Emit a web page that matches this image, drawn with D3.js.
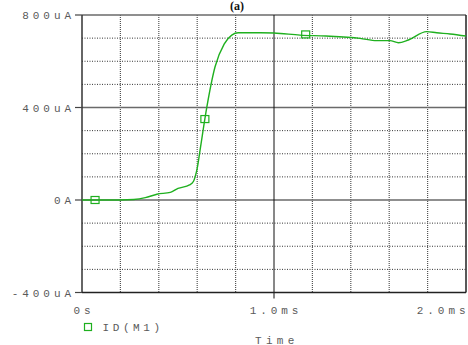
<!DOCTYPE html>
<html><head><meta charset="utf-8">
<script src="https://cdn.jsdelivr.net/npm/d3@7"></script>
<style>body{margin:0;background:#fff}svg{display:block}</style>
</head><body>
<script>
// Data (time in ms, current in uA)
const timeMs = [0, 0.1, 0.2, 0.27, 0.33, 0.39, 0.46, 0.5, 0.56, 0.58, 0.594, 0.6, 0.615, 0.649, 0.693, 0.741, 0.78, 0.814, 0.93, 1.0, 1.135, 1.27, 1.448, 1.535, 1.604, 1.648, 1.70, 1.795, 1.847, 1.917, 2.0];
const currentUA = [0, 0, 0, 2, 10, 25, 33, 50, 65, 80, 115, 137, 216, 396, 576, 675, 713, 723, 723, 722, 713, 709, 699, 689, 689, 680, 692, 728, 723, 718, 709];
const markerTime = [0.068, 0.64, 1.165];
const markerValue = [0, 350, 716];
const yTickValues = [-400, 0, 400, 800];
const yTickLabels = ["-400uA", "0A", "400uA", "800uA"];
const xTickValues = [0, 1, 2];
const xTickLabels = ["0s", "1.0ms", "2.0ms"];
const yGridValues = [-300, -200, -100, 100, 200, 300, 500, 600, 700];
const xGridValues = [0.2, 0.4, 0.6, 0.8, 1.2, 1.4, 1.6, 1.8];
const seriesName = "ID(M1)";
const title = "(a)";
const xTitle = "Time";

const W = 468, H = 345;
const L = 82, R = 466, T = 15, B = 292.5;
const green = "#1fb01f";
const txt = "#5a5a5a";
const FONT = "Liberation Mono, monospace";

const svg = d3.select("body").append("svg").attr("width", W).attr("height", H);
const x = d3.scaleLinear().domain([0, 2]).range([L, R]);
const y = d3.scaleLinear().domain([-400, 800]).range([B, T]);

// spaced text: letter spacing between glyphs only (no trailing space)
function spaced(sel, str, ls) {
  const chars = str.split("");
  sel.selectAll("tspan").data(chars).join("tspan")
    .attr("letter-spacing", (c, i) => i < chars.length - 1 ? ls : 0)
    .text(c => c);
  return sel;
}

// dotted grid
svg.append("g").selectAll("line").data(yGridValues).join("line")
  .attr("x1", L).attr("x2", R).attr("y1", d => y(d)).attr("y2", d => y(d))
  .attr("stroke", "#333").attr("stroke-width", 1).attr("stroke-dasharray", "1,1.5");
svg.append("g").selectAll("line").data(xGridValues).join("line")
  .attr("y1", T).attr("y2", B).attr("x1", d => x(d)).attr("x2", d => x(d))
  .attr("stroke", "#555").attr("stroke-width", 1.2).attr("stroke-dasharray", "1,1");

// major solid horizontal lines
svg.append("g").selectAll("line").data([0, 400, 800]).join("line")
  .attr("x1", L).attr("x2", R).attr("y1", d => y(d)).attr("y2", d => y(d))
  .attr("stroke", "#6a6a6a").attr("stroke-width", 1.5);
// 1.0ms solid line
svg.append("line").attr("x1", x(1)).attr("x2", x(1)).attr("y1", T).attr("y2", B + 6)
  .attr("stroke", "#111").attr("stroke-width", 1);
// borders
svg.append("line").attr("x1", L).attr("x2", L).attr("y1", T).attr("y2", B)
  .attr("stroke", "#333").attr("stroke-width", 1.5);
svg.append("line").attr("x1", R).attr("x2", R).attr("y1", T).attr("y2", B)
  .attr("stroke", "#222").attr("stroke-width", 1.5);
svg.append("line").attr("x1", L).attr("x2", R).attr("y1", B).attr("y2", B)
  .attr("stroke", "#222").attr("stroke-width", 1.5);

// y ticks & labels
const ls = 3.9;
const yAx = svg.append("g");
yAx.selectAll("line").data(yTickValues).join("line")
  .attr("x1", L - 7).attr("x2", L).attr("y1", d => y(d)).attr("y2", d => y(d))
  .attr("stroke", "#444").attr("stroke-width", 1.2);
yAx.selectAll("text").data(yTickValues).join("text")
  .attr("x", 71).attr("y", d => y(d) + 4)
  .attr("text-anchor", "end")
  .attr("font-family", FONT).attr("font-size", 11).attr("fill", txt)
  .each(function(d, i) { spaced(d3.select(this), yTickLabels[i], ls); });

// x labels
svg.append("g").selectAll("text").data(xTickValues).join("text")
  .attr("x", (d, i) => i === 2 ? R - 0.5 : x(d))
  .attr("y", 314)
  .attr("text-anchor", (d, i) => i === 2 ? "end" : "middle")
  .attr("font-family", FONT).attr("font-size", 11).attr("fill", txt)
  .each(function(d, i) { spaced(d3.select(this), xTickLabels[i], ls); });

// curve
svg.append("path").datum(timeMs.map((t, i) => [t, currentUA[i]]))
  .attr("d", d3.line().x(d => x(d[0])).y(d => y(d[1])).curve(d3.curveMonotoneX))
  .attr("fill", "none").attr("stroke", green).attr("stroke-width", 1.4);

// markers
svg.append("g").selectAll("rect").data(markerTime).join("rect")
  .attr("x", d => x(d) - 4).attr("y", (d, i) => y(markerValue[i]) - 3.5)
  .attr("width", 8).attr("height", 7)
  .attr("fill", "none").attr("stroke", green).attr("stroke-width", 1.2);

// legend
svg.append("rect").attr("x", 84.5).attr("y", 323.5).attr("width", 7).attr("height", 7)
  .attr("fill", "none").attr("stroke", green).attr("stroke-width", 1.2);
spaced(svg.append("text").attr("x", 102.5).attr("y", 331)
  .attr("font-family", FONT).attr("font-size", 11).attr("fill", txt), seriesName, 3.6);

// x title
spaced(svg.append("text").attr("x", 255).attr("y", 343.5)
  .attr("font-family", FONT).attr("font-size", 11).attr("fill", txt), xTitle, 4.3);

// title
svg.append("text").attr("x", 237).attr("y", 10)
  .attr("text-anchor", "middle")
  .attr("font-family", "Liberation Serif, serif").attr("font-weight", "bold").attr("font-size", 12)
  .attr("fill", "#111").text(title);
</script>
</body></html>
